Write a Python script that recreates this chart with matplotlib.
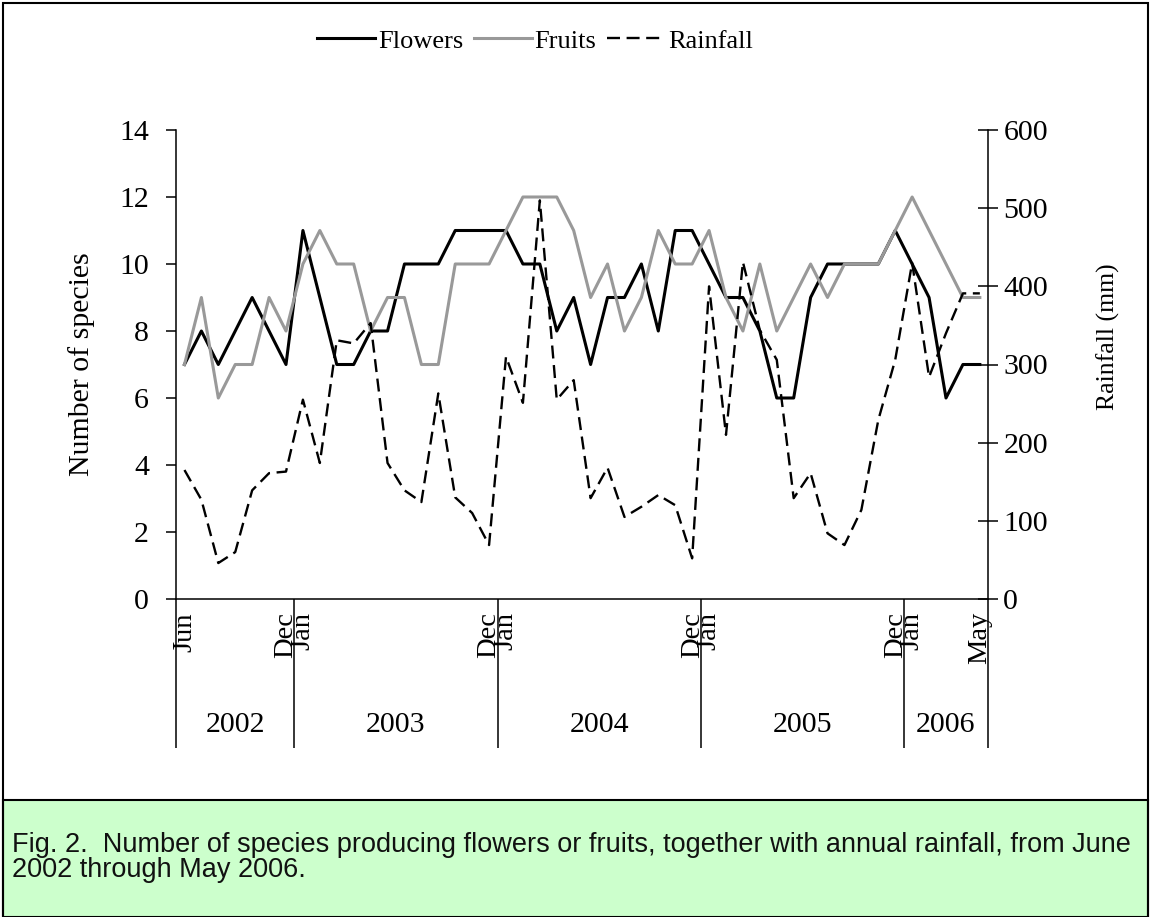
import numpy as np
import matplotlib.pyplot as plt
from matplotlib.patches import Rectangle

# monthly values, Jun 2002 .. May 2006 (48 months)
flowers = [7, 8, 7, 8, 9, 8, 7, 11, 9, 7, 7, 8,
           8, 10, 10, 10, 11, 11, 11, 11, 10, 10, 8, 9,
           7, 9, 9, 10, 8, 11, 11, 10, 9, 9, 8, 6,
           6, 9, 10, 10, 10, 10, 11, 10, 9, 6, 7, 7]
fruits = [7, 9, 6, 7, 7, 9, 8, 10, 11, 10, 10, 8,
          9, 9, 7, 7, 10, 10, 10, 11, 12, 12, 12, 11,
          9, 10, 8, 9, 11, 10, 10, 11, 9, 8, 10, 8,
          9, 10, 9, 10, 10, 10, 11, 12, 11, 10, 9, 9]
rainfall = [165, 127, 46, 60, 139, 161, 163, 255, 174, 331, 327, 353,
            174, 139, 124, 263, 130, 110, 69, 310, 251, 510, 255, 280,
            129, 168, 105, 118, 133, 120, 52, 400, 210, 431, 344, 306,
            129, 161, 84, 69, 114, 229, 306, 430, 284, 340, 391, 391]

month_pos = [0, 6, 7, 18, 19, 30, 31, 42, 43, 47]
month_lab = ['Jun', 'Dec', 'Jan', 'Dec', 'Jan', 'Dec', 'Jan', 'Dec', 'Jan', 'May']
year_edges = [-0.5, 6.5, 18.5, 30.5, 42.5, 47.5]
years = ['2002', '2003', '2004', '2005', '2006']

caption1 = 'Fig. 2.  Number of species producing flowers or fruits, together with annual rainfall, from June'
caption2 = '2002 through May 2006.'

W, H = 1151, 917
plt.rcParams['font.family'] = 'Liberation Serif'

fig = plt.figure(figsize=(W / 100, H / 100), dpi=100)

# caption box and outer frame
fig.patches.append(Rectangle((3 / W, 0), 1145 / W, (H - 800) / H, transform=fig.transFigure,
                             facecolor='#ccffcc', edgecolor='black', lw=1.5, zorder=0))
fig.patches.append(Rectangle((3 / W, -0.01), 1145 / W, 1 - 3 / H + 0.01, transform=fig.transFigure,
                             fill=False, edgecolor='black', lw=1.5, zorder=0))

ax = fig.add_axes([176 / W, 1 - 599 / H, 812.3 / W, 469 / H])
ax2 = ax.twinx()
ax.patch.set_visible(False)

x = np.arange(len(flowers))
l1, = ax.plot(x, flowers, color='black', lw=2.2)
l2, = ax.plot(x, fruits, color='#999999', lw=2.2)
l3, = ax2.plot(x, rainfall, color='black', lw=1.7, dashes=(5.5, 2.8))

ax.set_xlim(-0.5, 47.5)
ax.set_ylim(0, 14)
ax2.set_ylim(0, 600)
ax.set_yticks(range(0, 15, 2))
ax2.set_yticks(range(0, 601, 100))

for s in ['top', 'right']:
    ax.spines[s].set_visible(False)
for s in ['top', 'left', 'bottom']:
    ax2.spines[s].set_visible(False)
for s in ax.spines.values():
    s.set_linewidth(1.1)
ax2.spines['right'].set_linewidth(1.1)

ax.tick_params(axis='y', direction='out', length=7.5, width=1.1, pad=12, labelsize=21.5)
ax2.tick_params(axis='y', direction='inout', length=13.7, width=1.1, pad=4, labelsize=21.5)

ax.set_xticks(month_pos)
ax.set_xticklabels(month_lab, rotation=90)
ax.tick_params(axis='x', which='major', length=0, pad=9.5, labelsize=20.5)
ax.set_xticks(year_edges, minor=True)
ax.tick_params(axis='x', which='minor', direction='out', length=107, width=1.1)

for i, yr in enumerate(years):
    xc = (year_edges[i] + year_edges[i + 1]) / 2
    ax.text(xc, -(725 - 599) / 469, yr, transform=ax.get_xaxis_transform(),
            ha='center', va='center', fontsize=21.5)

ax.set_ylabel('Number of species', fontsize=21.5, va='center')
ax.yaxis.set_label_coords((82 - 176) / 812.3, 0.5)
ax2.set_ylabel('Rainfall (mm)', fontsize=18.5, va='center')
ax2.yaxis.set_label_coords((1108 - 176) / 812.3, (599 - 337) / 469)

fig.legend([l1, l2, l3], ['Flowers', 'Fruits', 'Rainfall'], loc='center',
           bbox_to_anchor=(535 / W, 1 - 41 / H), ncol=3, frameon=False,
           handlelength=2.2, handletextpad=0.1, columnspacing=0.4, fontsize=19)

fig.text(12 / W, 1 - 845 / H, caption1, fontsize=19.5, family='Liberation Sans',
         color='#111111', va='center', ha='left')
fig.text(12 / W, 1 - 870 / H, caption2, fontsize=19.5, family='Liberation Sans',
         color='#111111', va='center', ha='left')

fig.savefig('out.png', dpi=100)
